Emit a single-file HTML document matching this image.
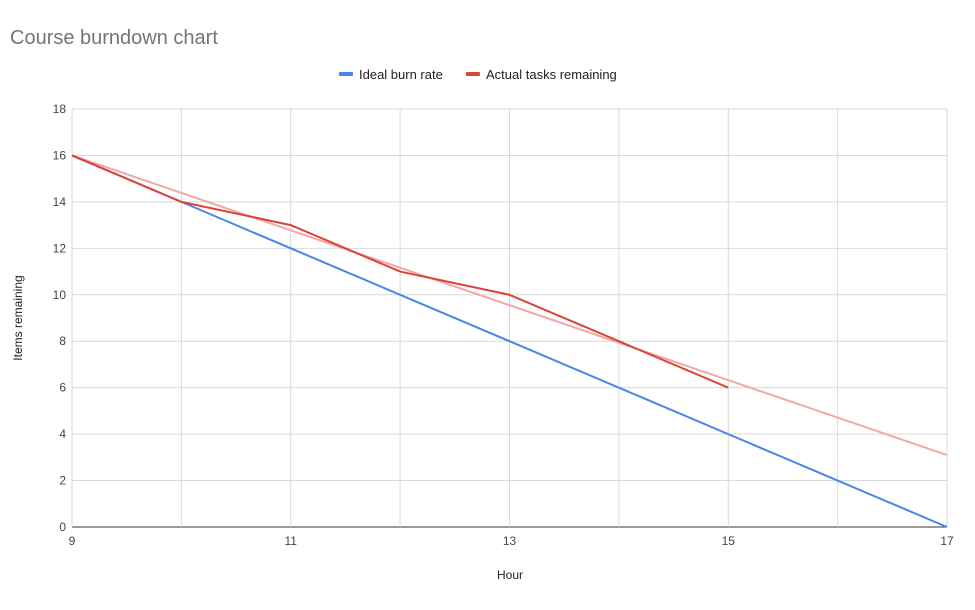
<!DOCTYPE html>
<html><head><meta charset="utf-8"><style>
body{margin:0;background:#fff;font-family:"Liberation Sans",Arial,sans-serif;}
svg text{font-family:"Liberation Sans",Arial,sans-serif;}
</style></head><body>
<svg id="chart" width="975" height="605">
<rect width="975" height="605" fill="#fff"/>
<text x="10" y="44" font-size="20" fill="#757575">Course burndown chart</text>
<g>
<g><rect x="339" y="72" width="14" height="4" rx="1" fill="#4a86e8"/><text x="359" y="79" font-size="13" fill="#222">Ideal burn rate</text></g>
<g><rect x="466" y="72" width="14" height="4" rx="1" fill="#db4437"/><text x="486" y="79" font-size="13" fill="#222">Actual tasks remaining</text></g>
</g>
<g id="grid"></g>
<g id="marks"></g>
<text x="510" y="579" font-size="12" text-anchor="middle" fill="#222">Hour</text>
<text transform="translate(22,318) rotate(-90)" font-size="12" text-anchor="middle" fill="#222">Items remaining</text>
</svg>
<script>
const hours=[9,10,11,12,13,14,15,16,17];
const idealValues=[16,14,12,10,8,6,4,2,0];
const actualHours=[9,10,11,12,13,14,15];
const actualValues=[16,14,13,11,10,8,6];
const trendStart=16, trendEnd=3.1;
const xTicks=[9,11,13,15,17];
const yTicks=[0,2,4,6,8,10,12,14,16,18];
const X0=72,X1=947,Y0=527,Y1=109;
const x=v=>X0+(v-9)/(17-9)*(X1-X0);
const y=v=>Y0-(v/18)*(Y0-Y1);
const NS="http://www.w3.org/2000/svg";
function mk(tag,attrs,parent){const e=document.createElementNS(NS,tag);for(const k in attrs)e.setAttribute(k,attrs[k]);parent.appendChild(e);return e;}
const g=document.getElementById('grid'),m=document.getElementById('marks');
yTicks.forEach(t=>{
 const l=mk('line',{x1:X0,x2:X1,y1:y(t),y2:y(t),stroke:t===0?'#333':'#d9d9d9','stroke-width':1},g);
 
 
 const tx=mk('text',{x:X0-6,y:y(t)+4,'font-size':12,'text-anchor':'end',fill:'#444'},g);tx.textContent=t;
 
 
});
hours.forEach(h=>{
 const l=mk('line',{x1:x(h),x2:x(h),y1:Y1,y2:Y0,stroke:'#d9d9d9','stroke-width':1},g);
 
 
});
xTicks.forEach(h=>{
 const tx=mk('text',{x:x(h),y:Y0+18,'font-size':12,'text-anchor':'middle',fill:'#444'},g);tx.textContent=h;
 
 
});
const tr=mk('line',{x1:x(9),y1:y(trendStart),x2:x(17),y2:y(trendEnd),stroke:'#f0a8a8','stroke-width':2},m);


const ip=mk('polyline',{points:hours.map((h,i)=>x(h)+','+y(idealValues[i])).join(' '),fill:'none',stroke:'#4a86e8','stroke-width':2},m);


const ap=mk('polyline',{points:actualHours.map((h,i)=>x(h)+','+y(actualValues[i])).join(' '),fill:'none',stroke:'#db4437','stroke-width':2},m);


</script>
</body></html>
